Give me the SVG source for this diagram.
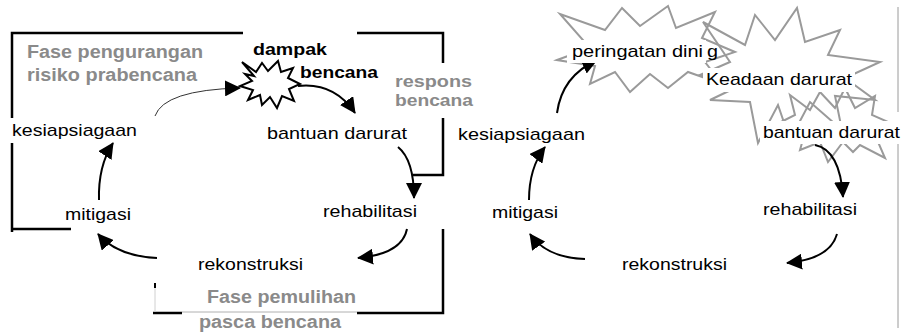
<svg xmlns="http://www.w3.org/2000/svg" width="902" height="332" viewBox="0 0 902 332">
  <defs>
    <style>
      text { font-family: "Liberation Sans", Arial, sans-serif; }
      .lbl { font-size: 17px; fill: #000; }
      .evt { font-size: 17px; font-weight: bold; fill: #000; }
      .phase { font-size: 18px; font-weight: bold; fill: #8a8a8a; }
      .phase-sm { font-size: 16px; font-weight: bold; fill: #8a8a8a; }
      .frame { fill: none; stroke: #000; stroke-width: 2.5; }
      .frame-thin { fill: none; stroke: #9a9a9a; stroke-width: 1; }
      .edge { fill: none; stroke: #000; stroke-width: 2; marker-end: url(#head); }
      .edge-thin { fill: none; stroke: #333; stroke-width: 1; marker-end: url(#head); }
      .burst { fill: #fff; stroke: #000; stroke-width: 2; stroke-linejoin: miter; }
      .burst-gray { fill: none; stroke: #9a9a9a; stroke-width: 2; stroke-linejoin: miter; }
      .bg { fill: #fff; }
    </style>
    <marker id="head" viewBox="0 0 16 16" markerUnits="userSpaceOnUse" markerWidth="16" markerHeight="16" refX="15" refY="8" orient="auto">
      <path d="M0,0 L16,8 L0,16 z" fill="#000"/>
    </marker>
  </defs>

  <rect width="902" height="332" fill="#fff"/>

  <!-- phase frames, left cycle -->
  <g id="frames">
    <path class="frame" d="M243,33 H12 V118 M12,143 V232 M12,229 H71"/>
    <path class="frame" d="M357,33 H443 V63 M443,118 V175 H413"/>
    <path class="frame" d="M443,229 V313 H357 M182,313 H153"/>
    <path d="M182,312 H357" stroke="#b0b0b0" stroke-width="1" fill="none"/>
    <path d="M155,283 V288" stroke="#000" stroke-width="2" fill="none"/>
    <path d="M155,288 V312" stroke="#d0d0d0" stroke-width="1" fill="none"/>
    <path class="frame-thin" d="M898,7 V112 M898,130 V328"/>
  </g>

  <!-- gray bursts, right cycle -->
  <g id="bursts-right">
    <polygon class="burst-gray" points="557,60 590,48 560,14 605,30 622,8 640,26 668,6 676,28 715,12 702,38 735,52 705,62 722,84 688,72 668,88 650,74 630,92 615,72 590,84 595,66"/>
    <polygon class="burst-gray" points="703,22 745,45 755,15 775,40 797,8 805,42 840,30 828,55 880,62 845,78 875,100 835,96 842,130 810,102 790,140 778,105 758,143 750,102 710,100 735,88 700,75 730,62"/>
    <polygon class="burst-gray" points="790,95 810,110 820,92 835,108 845,88 855,108 875,96 872,115 895,125 875,135 885,158 860,145 853,152 843,142 828,162 820,142 800,150 805,132 775,125 795,115"/>
  </g>

  <!-- connectors -->
  <g id="connectors">
    <path class="edge-thin" d="M155,116 Q164,90 240,88"/>
    <path class="edge" d="M298,86 Q334,82 355,113"/>
    <path class="edge" d="M398,147 Q414,160 414,198"/>
    <path class="edge" d="M407,229 Q402,254 358,258"/>
    <path class="edge" d="M157,258 Q117,256 98,234"/>
    <path class="edge" d="M99,200 Q98,166 113,143"/>

    <path class="edge" d="M529,200 Q529,168 545,147"/>
    <path class="edge" d="M557,113 Q562,76 597,60"/>
    <path class="edge" d="M815,145 Q840,150 843,197"/>
    <path class="edge" d="M837,234 Q830,259 787,263"/>
    <path class="edge" d="M585,259 Q547,258 530,234"/>
  </g>

  <!-- left cycle: pre-disaster, response, recovery -->
  <g id="phase-prabencana">
    <text class="phase" x="27" y="58" textLength="176" lengthAdjust="spacingAndGlyphs">Fase pengurangan</text>
    <text class="phase" x="27" y="81" textLength="170" lengthAdjust="spacingAndGlyphs">risiko prabencana</text>
  </g>
  <g id="dampak-bencana">
    <polygon class="burst" points="242,62 256,72 262,63 268,71 278,61 281,72 293,68 288,78 300,84 289,89 294,101 282,96 277,108 270,97 262,105 260,95 248,100 253,90 240,86 252,81 245,74 254,76"/>
    <text class="evt" x="253" y="55" textLength="74" lengthAdjust="spacingAndGlyphs">dampak</text>
    <text class="evt" x="300" y="78" textLength="78" lengthAdjust="spacingAndGlyphs">bencana</text>
  </g>
  <g id="phase-respons">
    <text class="phase-sm" x="395" y="87" textLength="77" lengthAdjust="spacingAndGlyphs">respons</text>
    <text class="phase-sm" x="395" y="106" textLength="78" lengthAdjust="spacingAndGlyphs">bencana</text>
  </g>
  <g id="kesiapsiagaan-1">
    <text class="lbl" x="12" y="136" textLength="125" lengthAdjust="spacingAndGlyphs">kesiapsiagaan</text>
  </g>
  <g id="bantuan-darurat-1">
    <text class="lbl" x="267" y="139" textLength="140" lengthAdjust="spacingAndGlyphs">bantuan darurat</text>
  </g>
  <g id="mitigasi-1">
    <text class="lbl" x="65" y="220" textLength="66" lengthAdjust="spacingAndGlyphs">mitigasi</text>
  </g>
  <g id="rehabilitasi-1">
    <text class="lbl" x="323" y="217" textLength="94" lengthAdjust="spacingAndGlyphs">rehabilitasi</text>
  </g>
  <g id="rekonstruksi-1">
    <text class="lbl" x="198" y="270" textLength="105" lengthAdjust="spacingAndGlyphs">rekonstruksi</text>
  </g>
  <g id="phase-pemulihan">
    <text class="phase" x="207" y="303" textLength="149" lengthAdjust="spacingAndGlyphs">Fase pemulihan</text>
    <text class="phase" x="199" y="328" textLength="142" lengthAdjust="spacingAndGlyphs">pasca bencana</text>
  </g>

  <!-- right cycle -->
  <g id="peringatan-dini">
    <rect class="bg" x="567" y="40" width="139" height="23"/>
    <text class="lbl" x="572" y="57" textLength="131" lengthAdjust="spacingAndGlyphs">peringatan dini</text>
    <text class="lbl" x="707" y="57" textLength="11" lengthAdjust="spacingAndGlyphs">g</text>
  </g>
  <g id="keadaan-darurat">
    <rect class="bg" x="703" y="68" width="152" height="24"/>
    <text class="lbl" x="706" y="85" textLength="146" lengthAdjust="spacingAndGlyphs">Keadaan darurat</text>
  </g>
  <g id="bantuan-darurat-2">
    <rect class="bg" x="760" y="121" width="140" height="23"/>
    <text class="lbl" x="763" y="138" textLength="137" lengthAdjust="spacingAndGlyphs">bantuan darurat</text>
  </g>
  <g id="kesiapsiagaan-2">
    <text class="lbl" x="458" y="140" textLength="127" lengthAdjust="spacingAndGlyphs">kesiapsiagaan</text>
  </g>
  <g id="mitigasi-2">
    <text class="lbl" x="492" y="218" textLength="66" lengthAdjust="spacingAndGlyphs">mitigasi</text>
  </g>
  <g id="rehabilitasi-2">
    <text class="lbl" x="763" y="215" textLength="94" lengthAdjust="spacingAndGlyphs">rehabilitasi</text>
  </g>
  <g id="rekonstruksi-2">
    <text class="lbl" x="622" y="270" textLength="105" lengthAdjust="spacingAndGlyphs">rekonstruksi</text>
  </g>
</svg>
